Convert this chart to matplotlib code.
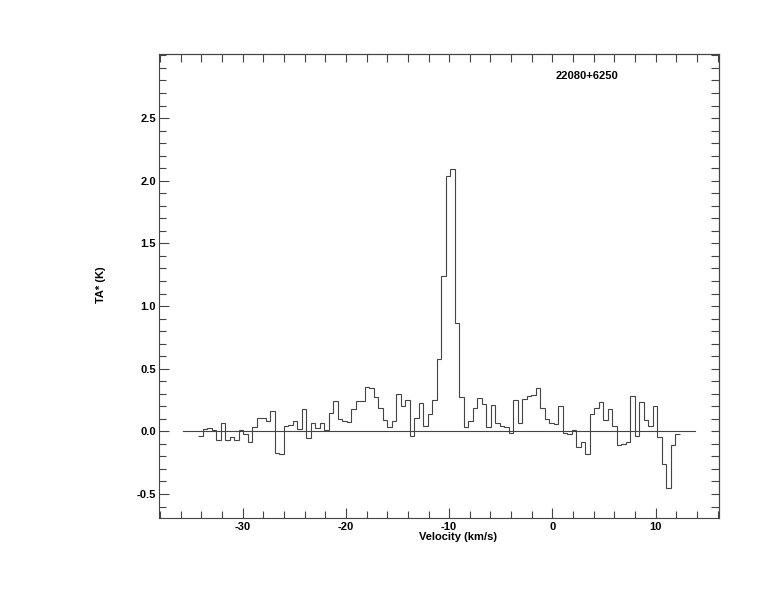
import numpy as np
import matplotlib
matplotlib.use("Agg")
import matplotlib.pyplot as plt
from matplotlib.ticker import MultipleLocator, FixedLocator, NullFormatter

plt.rcParams['font.family'] = ['Liberation Sans', 'DejaVu Sans']
plt.rcParams['axes.unicode_minus'] = False

# ---- data ----
source_name = "22080+6250"
v_start = -34.29      # left edge of first channel (km/s)
channel_width = 0.4355  # km/s
ta_values = [
    -0.040, 0.016, 0.024, 0.008, -0.072, 0.064, -0.072, -0.048, -0.072, 0.008,
    -0.020, -0.088, 0.032, 0.110, 0.110, 0.080, 0.160, -0.170, -0.180, 0.040,
    0.048, 0.080, 0.016, 0.176, -0.056, 0.064, 0.024, 0.064, 0.008, 0.144,
    0.240, 0.096, 0.082, 0.072, 0.176, 0.240, 0.240, 0.351, 0.343, 0.274,
    0.190, 0.090, 0.032, 0.080, 0.295, 0.200, 0.247, -0.040, 0.110, 0.223,
    0.040, 0.138, 0.247, 0.575, 1.237, 2.037, 2.091, 0.862, 0.274, 0.032,
    0.080, 0.190, 0.263, 0.215, 0.032, 0.207, 0.066, 0.045, 0.037, -0.016,
    0.247, 0.066, 0.255, 0.282, 0.290, 0.343, 0.190, 0.096, 0.069, 0.059,
    0.200, -0.013, -0.021, 0.008, -0.125, -0.085, -0.181, 0.136, 0.190, 0.231,
    0.090, 0.176, 0.040, -0.112, -0.104, -0.088, 0.282, -0.040, 0.231, 0.090,
    0.040, 0.200, -0.045, -0.263, -0.455, -0.112, -0.021,
]
baseline_range = [-35.8, 13.77]
x_limits = (-38.09, 16.12)
y_limits = (-0.694, 3.009)
x_major = [-30, -20, -10, 0, 10]
x_labels = ["-30", "-20", "-10", "0", "10"]
y_major = [-0.5, 0.0, 0.5, 1.0, 1.5, 2.0, 2.5]
y_labels = ["-0.5", "0.0", "0.5", "1.0", "1.5", "2.0", "2.5"]

# ---- figure ----
W, H = 774, 612
fig = plt.figure(figsize=(W / 100, H / 100), dpi=100)
L, R, T, B = 159, 719, 54.3, 518.3
ax = fig.add_axes([L / W, 1 - B / H, (R - L) / W, (B - T) / H])

col = '#444444'
lw = 0.8

edges = v_start + channel_width * np.arange(len(ta_values) + 1)
ax.stairs(ta_values, edges, baseline=None, color=col, linewidth=lw)
ax.plot(baseline_range, [0, 0], color=col, linewidth=lw)

ax.set_xlim(*x_limits)
ax.set_ylim(*y_limits)

ax.xaxis.set_major_locator(FixedLocator(x_major))
ax.set_xticklabels(x_labels)
ax.xaxis.set_minor_locator(MultipleLocator(2))
ax.yaxis.set_major_locator(FixedLocator(y_major))
ax.set_yticklabels(y_labels)
ax.yaxis.set_minor_locator(MultipleLocator(0.1))

px = 0.72
ax.tick_params(which='major', direction='in', length=10 * px, width=lw, color=col,
               labelsize=8, pad=3)
ax.tick_params(which='minor', direction='in', length=7 * px, width=lw, color=col)
ax.tick_params(axis='y', pad=2)
for lab in ax.get_xticklabels() + ax.get_yticklabels():
    lab.set_fontweight('bold')
    lab.set_color('black')

for s in ax.spines.values():
    s.set_color(col)
    s.set_linewidth(lw)

secx = ax.secondary_xaxis('top')
secx.xaxis.set_major_locator(MultipleLocator(2))
secx.xaxis.set_major_formatter(NullFormatter())
secx.tick_params(direction='in', length=8 * px, width=lw, color=col)
secx.spines['top'].set_color(col)
secx.spines['top'].set_linewidth(lw)

secy = ax.secondary_yaxis('right')
secy.yaxis.set_major_locator(MultipleLocator(0.1))
secy.yaxis.set_major_formatter(NullFormatter())
secy.tick_params(direction='in', length=8.5 * px, width=lw, color=col)
secy.spines['right'].set_color(col)
secy.spines['right'].set_linewidth(lw)

ax.text(3.39, 2.836, source_name, ha='center', va='center',
        fontsize=8, fontweight='bold')

fig.text(458 / W, 1 - 537 / H, "Velocity (km/s)", ha='center', va='center',
         fontsize=8, fontweight='bold')
fig.text(101 / W, 1 - 285 / H, "TA* (K)", ha='center', va='center',
         rotation=90, fontsize=8, fontweight='bold')

fig.savefig("out.png", dpi=100)
